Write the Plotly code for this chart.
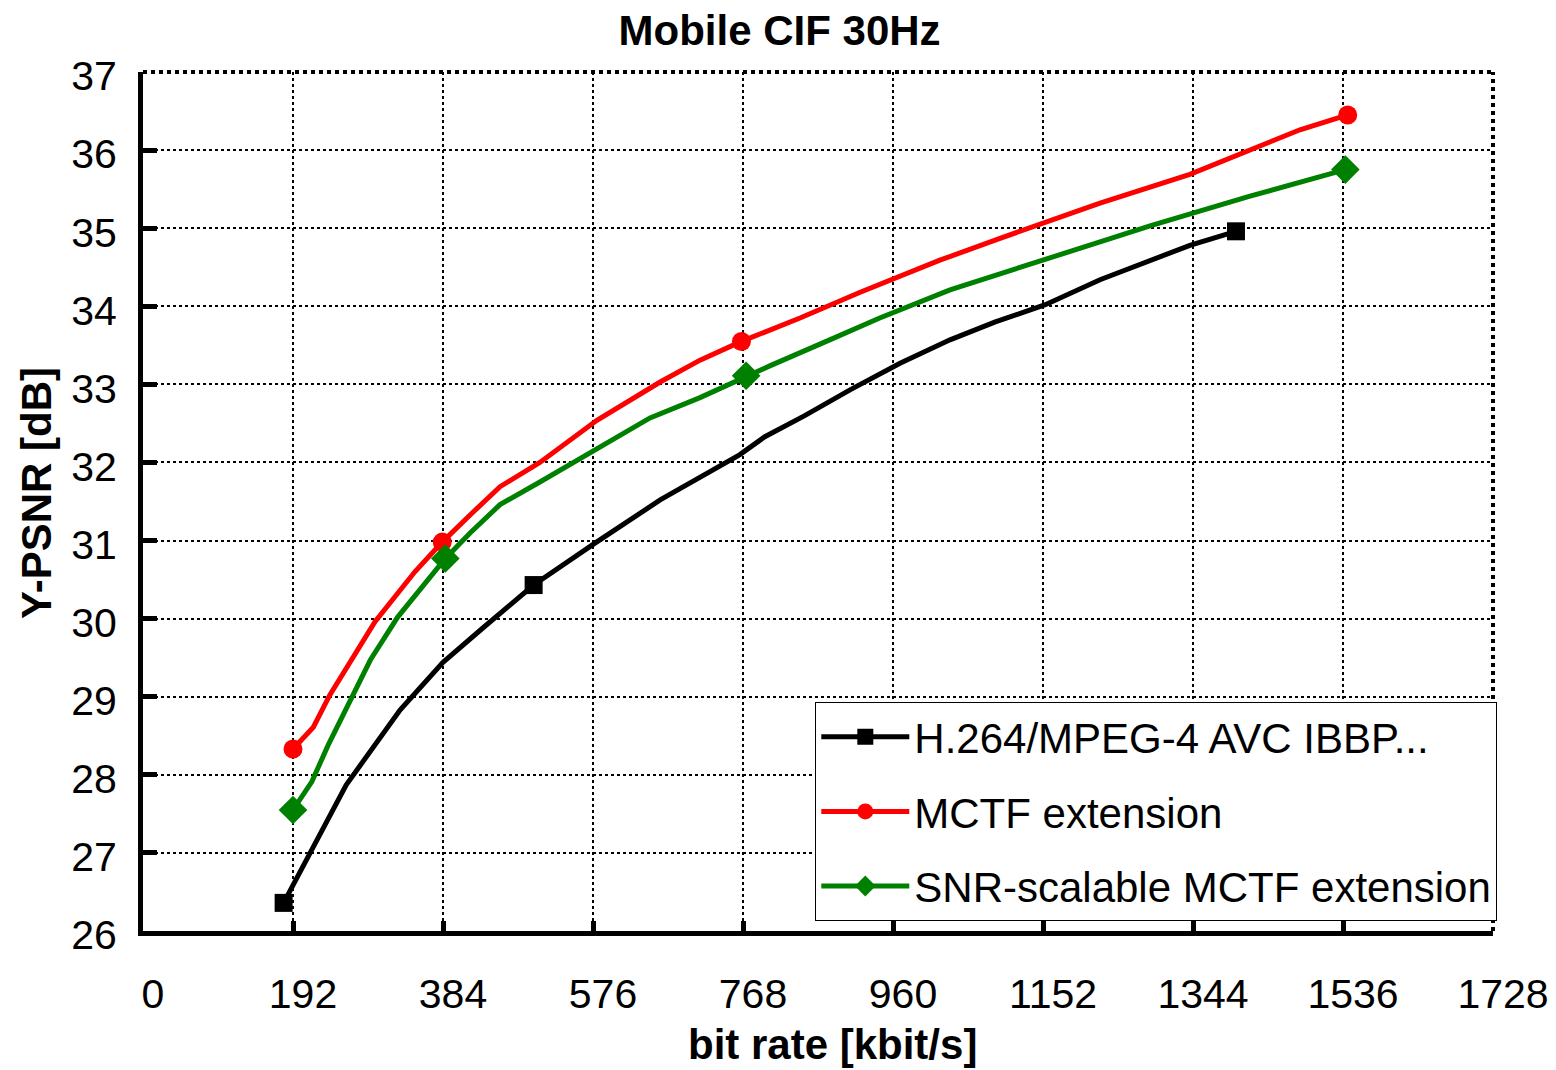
import plotly.graph_objects as go

# ---------------- data ----------------
avc_x = [180, 260, 329, 384, 435, 500, 579, 662, 764, 796, 847, 905, 969, 1033, 1091, 1155, 1225, 1289, 1340, 1399]
avc_y = [26.36, 27.87, 28.83, 29.44, 29.88, 30.43, 30.97, 31.52, 32.10, 32.33, 32.60, 32.93, 33.27, 33.57, 33.80, 34.02, 34.34, 34.59, 34.78, 34.96]
avc_mx = [180, 500, 1399]
avc_my = [26.36, 30.43, 34.96]

mctf_x = [192, 218, 239, 267, 297, 348, 383, 419, 457, 508, 581, 662, 713, 766, 841, 918, 1020, 1097, 1161, 1225, 1340, 1417, 1481, 1542]
mctf_y = [28.33, 28.61, 29.02, 29.47, 29.96, 30.60, 30.98, 31.33, 31.69, 32.00, 32.54, 33.03, 33.31, 33.55, 33.85, 34.18, 34.59, 34.87, 35.10, 35.32, 35.69, 36.00, 36.26, 36.45]
mctf_mx = [192, 383, 766, 1542]
mctf_my = [28.33, 30.98, 33.55, 36.45]

snr_x = [192, 216, 237, 265, 291, 326, 355, 387, 419, 457, 508, 585, 649, 713, 772, 803, 879, 943, 1033, 1161, 1289, 1417, 1539]
snr_y = [27.55, 27.91, 28.38, 28.96, 29.47, 30.02, 30.37, 30.77, 31.10, 31.46, 31.75, 32.20, 32.57, 32.83, 33.11, 33.24, 33.57, 33.85, 34.21, 34.62, 35.03, 35.41, 35.75]
snr_mx = [192, 387, 772, 1539]
snr_my = [27.55, 30.77, 33.11, 35.75]

series_names = ["H.264/MPEG-4 AVC IBBP...", "MCTF extension", "SNR-scalable MCTF extension"]
x_ticks = [0, 192, 384, 576, 768, 960, 1152, 1344, 1536, 1728]
y_ticks = [26, 27, 28, 29, 30, 31, 32, 33, 34, 35, 36, 37]

FONT = "Arial, 'Liberation Sans', sans-serif"

series = [
    (series_names[0], avc_x, avc_y, avc_mx, avc_my, "#000000", "square", 18),
    (series_names[1], mctf_x, mctf_y, mctf_mx, mctf_my, "#ff0000", "circle", 19),
    (series_names[2], snr_x, snr_y, snr_mx, snr_my, "#008000", "diamond", 22),
]

fig = go.Figure()
for i, (name, lx, ly, mx, my, col, sym, sz) in enumerate(series):
    fig.add_trace(go.Scatter(x=lx, y=ly, mode="lines", line=dict(color=col, width=5),
                             showlegend=False, hoverinfo="skip"))
    fig.add_trace(go.Scatter(x=mx, y=my, mode="markers",
                             marker=dict(color=col, symbol=sym, size=sz, line=dict(width=0)),
                             showlegend=False))
    # legend entry
    fig.add_trace(go.Scatter(x=[None], y=[None], mode="lines+markers", name=name,
                             legendgroup=f"g{i}",
                             line=dict(color=col, width=5),
                             marker=dict(color=col, symbol=sym, size=min(sz, 16), line=dict(width=0))))

fig.update_layout(
    width=1556, height=1070,
    margin=dict(l=143, r=63, t=72, b=139),
    paper_bgcolor="white", plot_bgcolor="white",
    font=dict(family=FONT, color="black", size=41),
    title=dict(text="<b>Mobile CIF 30Hz</b>", x=0.501, xanchor="center",
               y=1 - 30 / 1070, yanchor="middle", font=dict(size=42)),
    showlegend=True,
    legend=dict(x=0.498, y=0.2666, xanchor="left", yanchor="top",
                bgcolor="white", bordercolor="black", borderwidth=1,
                font=dict(size=42), itemwidth=88, tracegroupgap=17,
                traceorder="grouped", itemsizing="trace"),
    annotations=[
        dict(text="<b>bit rate [kbit/s]</b>", xref="paper", yref="paper",
             x=0.5104, y=-0.1327, xanchor="center", yanchor="middle",
             showarrow=False, font=dict(size=42)),
        dict(text="<b>Y-PSNR [dB]</b>", xref="paper", yref="paper",
             x=-0.0785, y=0.5099, xanchor="center", yanchor="middle",
             textangle=-90, showarrow=False, font=dict(size=42)),
    ],
)

fig.update_xaxes(
    range=[0, 1728], tickmode="array", tickvals=x_ticks, ticktext=[str(v) for v in x_ticks],
    showline=True, linecolor="black", linewidth=5, mirror=False,
    ticks="inside", ticklen=10, tickwidth=5, tickcolor="black",
    showgrid=True, gridcolor="black", gridwidth=2, griddash="dot",
    zeroline=False, ticklabelstandoff=23, ticklabelshift=10,
    tickfont=dict(size=41),
    automargin=False,
)
fig.update_yaxes(
    range=[26, 37], tickmode="array", tickvals=y_ticks, ticktext=[str(v) for v in y_ticks],
    showline=True, linecolor="black", linewidth=5, mirror=False,
    ticks="inside", ticklen=14, tickwidth=5, tickcolor="black",
    showgrid=True, gridcolor="black", gridwidth=2, griddash="dot",
    zeroline=False, ticklabelstandoff=13, ticklabelshift=4,
    tickfont=dict(size=41),
    automargin=False,
)

# dotted top and right frame
fig.add_shape(type="line", xref="paper", yref="paper", x0=0, x1=1, y0=1, y1=1,
              line=dict(color="black", width=4, dash="dot"))
fig.add_shape(type="line", xref="paper", yref="paper", x0=1, x1=1, y0=0, y1=1,
              line=dict(color="black", width=4, dash="dot"))

fig.write_html("out.html")
